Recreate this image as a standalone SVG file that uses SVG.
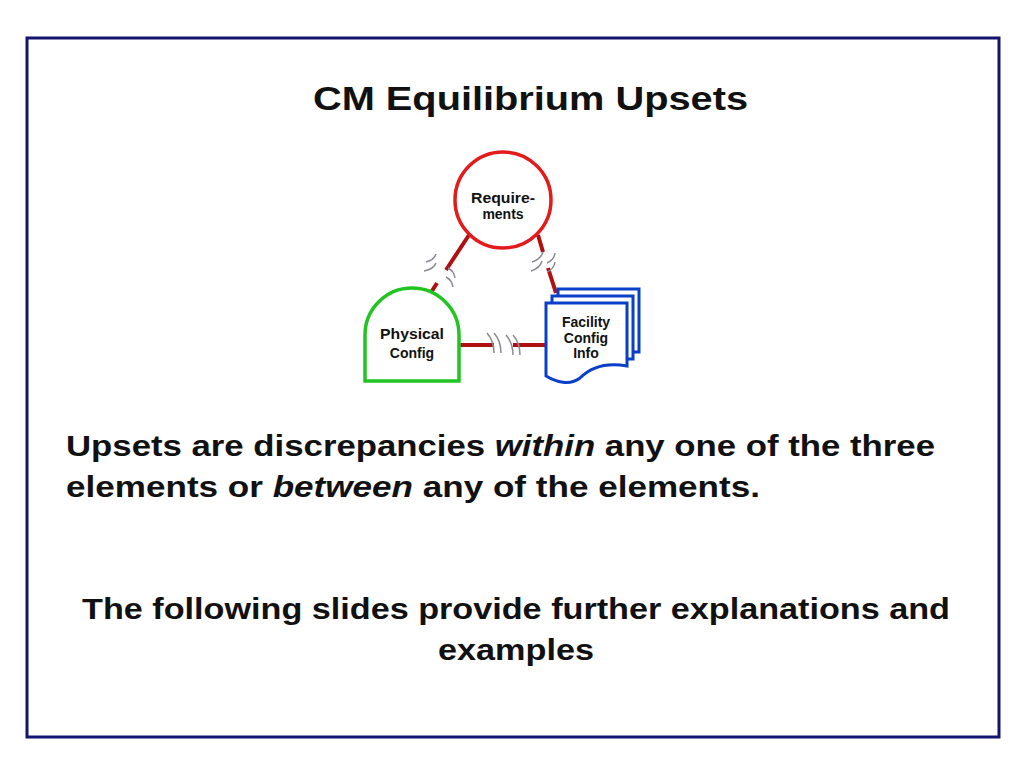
<svg xmlns="http://www.w3.org/2000/svg" width="1024" height="768" viewBox="0 0 1024 768">
<style>
.t{font-family:"Liberation Sans",Arial,sans-serif;font-weight:bold;fill:#111}
.s{font-size:14px;text-anchor:middle}
.c{stroke:#b01010;stroke-width:4;fill:none}
.b{stroke:#8a8a95;stroke-width:1.5;fill:none}
.pg{fill:#fff;stroke:#0a3fc8;stroke-width:3}
</style>
<rect width="1024" height="768" fill="#fff"/>
<rect x="27" y="38" width="972" height="699" fill="#fff" stroke="#14146e" stroke-width="3"/>
<text class="t" x="313" y="110" font-size="34" textLength="435" lengthAdjust="spacingAndGlyphs">CM Equilibrium Upsets</text>
<g id="connectors">
<path class="c" d="M469 235 L446 270 M437 283 L430 294"/>
<path class="c" d="M538 235 L543 252 M548 268 L556 293"/>
<path class="c" d="M460 345 L494 345 M513 345 L546 345"/>
<path class="b" d="M426 262 q8 -2 10 -8 M424 271 q10 -2 12 -8 M448 268 q6 3 7 10 M446 277 q6 3 7 10"/>
<path class="b" d="M532 262 q9 -3 11 -10 M531 271 q9 -3 11 -10 M547 263 q7 -3 8 -10 M547 272 q7 -3 8 -10"/>
<path class="b" d="M487 333 q7 8 7 20 M494 333 q7 8 7 20 M506 335 q7 8 7 20 M513 335 q7 8 7 20"/>
</g>
<g id="req">
<circle cx="503" cy="200" r="48" fill="#fff" stroke="#e41b1b" stroke-width="3.5"/>
<text class="t s" x="503" y="203" textLength="64" lengthAdjust="spacingAndGlyphs">Require-</text>
<text class="t s" x="503" y="219">ments</text>
</g>
<g id="phys">
<path d="M365 381 L365 335 A47 47 0 0 1 459 335 L459 381 Z" fill="#fff" stroke="#22c422" stroke-width="3.5"/>
<text class="t s" x="412" y="339" textLength="64" lengthAdjust="spacingAndGlyphs">Physical</text>
<text class="t s" x="412" y="358">Config</text>
</g>
<g id="fac">
<path class="pg" d="M558 289 H639 V352 H558 Z"/>
<path class="pg" d="M552 296 H633 V359 H552 Z"/>
<path class="pg" d="M546 303 H627 V366 C605 362 590 368 580 378 C570 386 556 382 546 376 Z"/>
<text class="t s" x="586" y="327">Facility</text>
<text class="t s" x="586" y="343">Config</text>
<text class="t s" x="586" y="358">Info</text>
</g>
<text class="t" x="66" y="456" font-size="30" textLength="869" lengthAdjust="spacingAndGlyphs">Upsets are discrepancies <tspan font-style="italic">within</tspan> any one of the three</text>
<text class="t" x="66" y="497" font-size="30" textLength="694" lengthAdjust="spacingAndGlyphs">elements or <tspan font-style="italic">between</tspan> any of the elements.</text>
<text class="t" x="82" y="619" font-size="30" textLength="868" lengthAdjust="spacingAndGlyphs">The following slides provide further explanations and</text>
<text class="t" x="438" y="660" font-size="30" textLength="156" lengthAdjust="spacingAndGlyphs">examples</text>
</svg>
